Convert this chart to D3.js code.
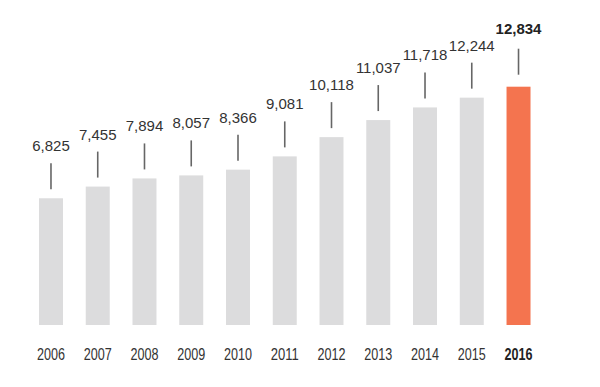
<!DOCTYPE html>
<html>
<head>
<meta charset="utf-8">
<script src="https://cdn.jsdelivr.net/npm/d3@7"></script>
<style>
  html, body { margin: 0; padding: 0; background: #fff; }
  svg { display: block; }
</style>
</head>
<body>
<svg id="chart" width="600" height="387"></svg>
<script>
// Data
const years = ["2006", "2007", "2008", "2009", "2010", "2011", "2012", "2013", "2014", "2015", "2016"];
const values = [6825, 7455, 7894, 8057, 8366, 9081, 10118, 11037, 11718, 12244, 12834];
const highlightYear = "2016";

const svg = d3.select("#chart");

// Scales
const x = d3.scaleBand()
  .domain(years)
  .range([27.6, 541.9])
  .paddingInner(0.487)
  .paddingOuter(0.2435);

const y = d3.scaleLinear()
  .domain([0, 12834])
  .range([325, 86.7]);

const rows = years.map((yr, i) => ({ year: yr, value: values[i] }));
const fmt = d3.format(",");
const isHi = d => d.year === highlightYear;

// Bars
svg.append("g")
  .selectAll("rect")
  .data(rows)
  .join("rect")
  .attr("x", d => x(d.year))
  .attr("y", d => y(d.value))
  .attr("width", x.bandwidth())
  .attr("height", d => y(0) - y(d.value))
  .attr("fill", d => isHi(d) ? "#f4744f" : "#dcdcdd");

// Leader lines
svg.append("g")
  .selectAll("line")
  .data(rows)
  .join("line")
  .attr("x1", d => x(d.year) + x.bandwidth() / 2)
  .attr("x2", d => x(d.year) + x.bandwidth() / 2)
  .attr("y1", d => y(d.value) - 9 - (isHi(d) ? 3 : 0))
  .attr("y2", d => y(d.value) - 35 - (isHi(d) ? 3 : 0))
  .attr("stroke", "#666")
  .attr("stroke-width", 1.6);

// Value labels
svg.append("g")
  .selectAll("text")
  .data(rows)
  .join("text")
  .attr("x", d => x(d.year) + x.bandwidth() / 2)
  .attr("y", d => y(d.value) - 47 - (isHi(d) ? 6 : 0))
  .attr("text-anchor", "middle")
  .style("font-family", "'Liberation Sans', Arial, sans-serif")
  .style("font-size", "15px")
  .style("font-weight", d => isHi(d) ? "700" : "400")
  .attr("fill", d => isHi(d) ? "#222" : "#333")
  .text(d => fmt(d.value));

// Year axis (condensed look)
const xAxis = svg.append("g")
  .attr("transform", "translate(0,348)")
  .call(d3.axisBottom(x).tickSize(0).tickPadding(0));
xAxis.select(".domain").remove();
xAxis.selectAll(".tick text")
  .attr("dy", "0.72em")
  .attr("y", 0)
  .attr("textLength", 28)
  .attr("lengthAdjust", "spacingAndGlyphs")
  .style("font-family", "'Liberation Sans', Arial, sans-serif")
  .style("font-size", "17px")
  .style("font-weight", d => d === highlightYear ? "700" : "400")
  .attr("fill", d => d === highlightYear ? "#222" : "#333");
</script>
</body>
</html>
